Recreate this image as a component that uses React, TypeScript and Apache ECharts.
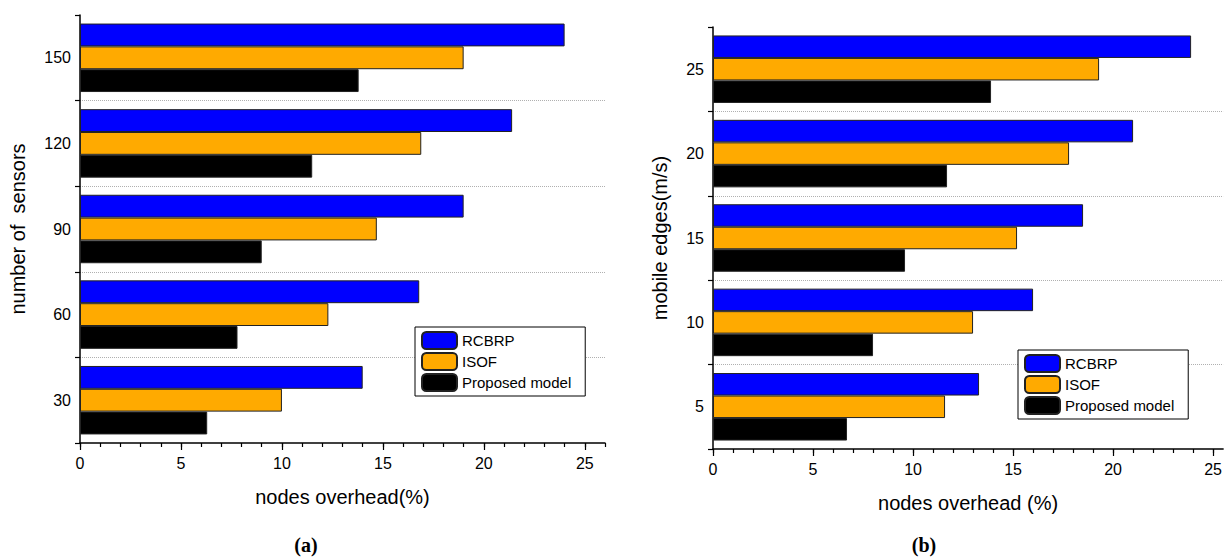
import React, { useEffect, useRef } from "react";
import * as echarts from "echarts";

const seriesNames = ["RCBRP", "ISOF", "Proposed model"];
const seriesColors = ["#0000ff", "#ffaa00", "#000000"];

// Left panel (a)
const sensorCategories = ["30", "60", "90", "120", "150"];
const sensorRCBRP = [14, 16.8, 19, 21.4, 24];
const sensorISOF = [10, 12.3, 14.7, 16.9, 19];
const sensorProposed = [6.3, 7.8, 9, 11.5, 13.8];

// Right panel (b)
const speedCategories = ["5", "10", "15", "20", "25"];
const speedRCBRP = [13.3, 16, 18.5, 21, 23.9];
const speedISOF = [11.6, 13, 15.2, 17.8, 19.3];
const speedProposed = [6.7, 8, 9.6, 11.7, 13.9];

const xMajorTicks = [0, 5, 10, 15, 20, 25];
const xMinorTicks = [0, 1, 2, 3, 4, 5, 6, 7, 8, 9, 10, 11, 12, 13, 14, 15, 16, 17, 18, 19, 20, 21, 22, 23, 24, 25, 26];

const FONT = "'Liberation Sans', Arial, Helvetica, sans-serif";

function makeXAxes(gridIndex: number, max: number, name: string) {
  const minor = xMinorTicks.filter((v) => v <= max);
  return [
    {
      type: "value",
      gridIndex,
      min: 0,
      max,
      position: "bottom",
      name,
      nameLocation: "middle",
      nameGap: 44,
      nameTextStyle: { fontSize: 20, color: "#000", fontFamily: FONT },
      axisLine: { show: true, lineStyle: { color: "#000", width: 1.5 } },
      axisTick: { show: true, length: 4, customValues: minor, lineStyle: { color: "#000", width: 1.2 } },
      axisLabel: { show: true, customValues: xMajorTicks, fontSize: 16, color: "#000", margin: 12, fontFamily: FONT },
      splitLine: { show: false },
    },
    {
      type: "value",
      gridIndex,
      min: 0,
      max,
      position: "bottom",
      axisLine: { show: false },
      axisTick: { show: true, length: 7, customValues: xMajorTicks, lineStyle: { color: "#000", width: 1.2 } },
      axisLabel: { show: false },
      splitLine: { show: false },
    },
  ];
}

function makeYAxis(gridIndex: number, cats: string[], name: string, nameGap: number) {
  return {
    type: "category",
    gridIndex,
    data: cats,
    name,
    nameLocation: "middle",
    nameGap,
    nameTextStyle: { fontSize: 20, color: "#000", fontFamily: FONT },
    axisLine: { show: true, lineStyle: { color: "#000", width: 1.5 } },
    axisTick: { show: true, length: 5, lineStyle: { color: "#000", width: 1.2 } },
    axisLabel: { fontSize: 16, color: "#000", margin: 9, fontFamily: FONT },
    splitLine: {
      show: true,
      showMinLine: false,
      showMaxLine: false,
      lineStyle: { color: "#b0b0b0", type: "dotted", width: 1 },
    },
  };
}

function makeSeries(xAxisIndex: number, yAxisIndex: number, values: number[][]) {
  return values.map((vals, i) => ({
    type: "bar",
    name: seriesNames[i],
    xAxisIndex,
    yAxisIndex,
    data: vals,
    barGap: "0%",
    barCategoryGap: "20%",
    itemStyle: { color: seriesColors[i], borderColor: "#222", borderWidth: 1 },
  }));
}

function makeLegend(left: number, top: number) {
  return {
    left,
    top,
    orient: "vertical",
    data: seriesNames,
    itemWidth: 35,
    itemHeight: 17,
    itemGap: 2,
    padding: [4, 14, 4, 6],
    borderColor: "#000",
    borderWidth: 1,
    backgroundColor: "#fff",
    selectedMode: false,
    textStyle: { fontSize: 15, color: "#000", fontFamily: FONT },
  };
}

export default function App() {
  const ref = useRef<HTMLDivElement>(null);
  useEffect(() => {
    if (!ref.current) return;
    const chart = echarts.init(ref.current, undefined, { renderer: "svg" });
    chart.setOption({
      animation: false,
      backgroundColor: "#fff",
      textStyle: { fontFamily: FONT },
      grid: [
        { left: 80, top: 15, width: 525, height: 428 },
        { left: 713, top: 27, width: 511.5, height: 422 },
      ],
      xAxis: [
        ...makeXAxes(0, 26, "nodes overhead(%)"),
        ...makeXAxes(1, 25.5, "nodes overhead (%)"),
      ],
      yAxis: [
        makeYAxis(0, sensorCategories, "number of  sensors", 52),
        makeYAxis(1, speedCategories, "mobile edges(m/s)", 43),
      ],
      legend: [makeLegend(415, 327), makeLegend(1018, 350)],
      series: [
        ...makeSeries(0, 0, [sensorRCBRP, sensorISOF, sensorProposed]),
        ...makeSeries(2, 1, [speedRCBRP, speedISOF, speedProposed]),
      ],
      graphic: [
        {
          type: "text",
          x: 306,
          y: 545,
          style: { text: "(a)", fontSize: 20, fontWeight: "bold", fontFamily: "'Liberation Serif', serif", fill: "#000", align: "center", verticalAlign: "middle" },
        },
        {
          type: "text",
          x: 924,
          y: 545,
          style: { text: "(b)", fontSize: 20, fontWeight: "bold", fontFamily: "'Liberation Serif', serif", fill: "#000", align: "center", verticalAlign: "middle" },
        },
      ],
    });
    return () => chart.dispose();
  }, []);
  return <div ref={ref} style={{ position: "absolute", left: 0, top: 0, width: 1225, height: 558 }} />;
}
